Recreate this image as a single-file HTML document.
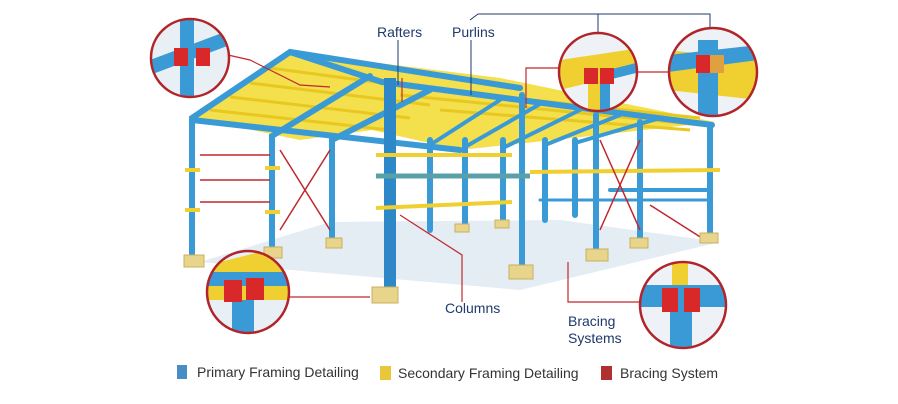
<!DOCTYPE html>
<html><head><meta charset="utf-8"><style>
html,body{margin:0;padding:0;background:#fff;width:898px;height:404px;overflow:hidden}
svg{display:block}
text{font-family:"Liberation Sans",sans-serif;fill:#1f3a6b}
</style></head><body>
<svg width="898" height="404" viewBox="0 0 898 404" xmlns="http://www.w3.org/2000/svg">
<defs>
<clipPath id="c1"><circle cx="190" cy="58" r="38"/></clipPath>
<clipPath id="c2"><circle cx="248" cy="292" r="40"/></clipPath>
<clipPath id="c3"><circle cx="598" cy="72" r="38"/></clipPath>
<clipPath id="c4"><circle cx="713" cy="72" r="43"/></clipPath>
<clipPath id="c5"><circle cx="683" cy="305" r="42"/></clipPath>
</defs>
<rect width="898" height="404" fill="#fff"/>
<polygon points="200,262 520,290 720,242 560,220 330,222" fill="#e4ecf4"/>
<polygon points="195,118 290,52 500,78 715,122 600,135 460,150 372,130 300,140" fill="#f3dc3a" opacity="0.9"/>
<g stroke="#e8c820" stroke-width="3">
<line x1="210" y1="110" x2="390" y2="130"/><line x1="230" y1="97" x2="410" y2="118"/>
<line x1="250" y1="83" x2="430" y2="105"/><line x1="270" y1="68" x2="450" y2="92"/>
<line x1="400" y1="95" x2="700" y2="125"/><line x1="420" y1="88" x2="700" y2="118"/>
<line x1="440" y1="110" x2="690" y2="130"/>
</g>
<g stroke="#3a9ad6" stroke-width="6" fill="none" stroke-linecap="round">
<polyline points="192,258 192,118 290,52 382,82"/>
<polyline points="272,250 272,136 370,76"/>
<polyline points="332,240 332,140 430,90"/>
<line x1="382" y1="82" x2="712" y2="125"/>
<line x1="192" y1="120" x2="460" y2="150"/>
<line x1="290" y1="52" x2="520" y2="88"/>
<line x1="522" y1="95" x2="522" y2="268"/>
<line x1="596" y1="115" x2="596" y2="250"/>
<line x1="640" y1="122" x2="640" y2="240"/>
<line x1="710" y1="125" x2="710" y2="235"/>
<line x1="430" y1="140" x2="430" y2="230"/>
<line x1="465" y1="140" x2="465" y2="225"/>
<line x1="503" y1="140" x2="503" y2="220"/>
<line x1="545" y1="140" x2="545" y2="220"/>
<line x1="575" y1="140" x2="575" y2="215"/>
<line x1="610" y1="190" x2="710" y2="190" stroke-width="4"/>
<line x1="540" y1="200" x2="710" y2="200" stroke-width="3"/>
</g>
<g stroke="#3a9ad6" stroke-width="4" stroke-linecap="round">
<line x1="430" y1="145" x2="500" y2="100"/><line x1="465" y1="147" x2="540" y2="104"/>
<line x1="503" y1="148" x2="580" y2="110"/><line x1="545" y1="145" x2="620" y2="115"/>
<line x1="575" y1="143" x2="660" y2="118"/>
</g>
<line x1="390" y1="78" x2="390" y2="290" stroke="#2e88c8" stroke-width="12"/>
<g stroke="#f0d030" stroke-width="4">
<line x1="376" y1="155" x2="512" y2="155"/>
<line x1="376" y1="208" x2="512" y2="202"/>
<line x1="530" y1="172" x2="720" y2="170"/>
<line x1="185" y1="170" x2="200" y2="170"/><line x1="185" y1="210" x2="200" y2="210"/>
<line x1="265" y1="168" x2="280" y2="168"/><line x1="265" y1="212" x2="280" y2="212"/>
</g>
<line x1="376" y1="176" x2="530" y2="176" stroke="#5aa0a8" stroke-width="5"/>
<g stroke="#c0282d" stroke-width="1.5">
<line x1="200" y1="155" x2="270" y2="155"/><line x1="200" y1="180" x2="270" y2="180"/><line x1="200" y1="202" x2="270" y2="202"/>
<line x1="280" y1="150" x2="330" y2="230"/><line x1="330" y1="150" x2="280" y2="230"/>
<line x1="600" y1="140" x2="640" y2="230"/><line x1="640" y1="140" x2="600" y2="230"/>
<line x1="650" y1="205" x2="705" y2="240"/>
</g>
<g fill="#e8d48a" stroke="#c8b060">
<rect x="184" y="255" width="20" height="12"/><rect x="264" y="247" width="18" height="11"/>
<rect x="326" y="238" width="16" height="10"/><rect x="372" y="287" width="26" height="16"/>
<rect x="509" y="265" width="24" height="14"/><rect x="586" y="249" width="22" height="12"/>
<rect x="630" y="238" width="18" height="10"/><rect x="700" y="233" width="18" height="10"/>
<rect x="455" y="224" width="14" height="8"/><rect x="495" y="220" width="14" height="8"/>
</g>
<g stroke="#c0282d" stroke-width="1.2" fill="none">
<polyline points="228,55 250,60 300,85 330,87"/>
<polyline points="402,102 402,78"/>
<polyline points="526,108 526,68 560,68"/>
<line x1="636" y1="72" x2="670" y2="72"/>
<polyline points="400,215 462,255 462,302"/>
<line x1="288" y1="297" x2="370" y2="297"/>
<polyline points="568,262 568,302 641,302"/>
</g>
<g stroke="#1f3a6b" stroke-width="1" fill="none">
<line x1="398" y1="40" x2="398" y2="85"/>
<line x1="471" y1="40" x2="471" y2="95"/>
<polyline points="470,20 478,14 710,14 710,28"/>
<line x1="598" y1="14" x2="598" y2="32"/>
</g>
<g>
<g clip-path="url(#c1)"><rect x="150" y="18" width="80" height="80" fill="#e8f0f6"/>
<rect x="180" y="18" width="14" height="80" fill="#3a9ad6"/><polygon points="150,60 230,30 230,45 150,75" fill="#3a9ad6"/>
<rect x="174" y="48" width="14" height="18" fill="#d8282a"/><rect x="196" y="48" width="14" height="18" fill="#d8282a"/></g>
<circle cx="190" cy="58" r="39" fill="none" stroke="#b0242a" stroke-width="2.5"/>
<g clip-path="url(#c2)"><rect x="208" y="252" width="80" height="80" fill="#e8f0f6"/>
<polygon points="208,265 260,252 288,270 288,300 208,300" fill="#f0d030"/>
<rect x="208" y="272" width="80" height="14" fill="#3a9ad6"/><rect x="232" y="300" width="22" height="40" fill="#3a9ad6"/>
<rect x="224" y="280" width="18" height="22" fill="#d8282a"/><rect x="246" y="278" width="18" height="22" fill="#d8282a"/></g>
<circle cx="248" cy="292" r="41" fill="none" stroke="#b0242a" stroke-width="2.5"/>
<g clip-path="url(#c3)"><rect x="560" y="34" width="80" height="80" fill="#eef2f6"/>
<polygon points="560,60 640,48 640,70 560,90" fill="#f0d030"/>
<rect x="588" y="75" width="12" height="40" fill="#f0d030"/><rect x="600" y="75" width="10" height="40" fill="#3a9ad6"/>
<polygon points="600,72 640,62 640,72 600,82" fill="#3a9ad6"/>
<rect x="584" y="68" width="14" height="16" fill="#d8282a"/><rect x="600" y="68" width="14" height="16" fill="#d8282a"/></g>
<circle cx="598" cy="72" r="39" fill="none" stroke="#b0242a" stroke-width="2.5"/>
<g clip-path="url(#c4)"><rect x="668" y="28" width="90" height="90" fill="#eef2f6"/>
<polygon points="668,50 758,60 758,100 668,90" fill="#f0d030"/>
<rect x="698" y="40" width="20" height="80" fill="#3a9ad6"/><polygon points="668,55 758,45 758,60 668,72" fill="#3a9ad6"/>
<rect x="696" y="55" width="14" height="18" fill="#d8282a"/><rect x="710" y="55" width="14" height="18" fill="#e0a040"/></g>
<circle cx="713" cy="72" r="44" fill="none" stroke="#b0242a" stroke-width="2.5"/>
<g clip-path="url(#c5)"><rect x="641" y="263" width="84" height="84" fill="#eef2f6"/>
<rect x="672" y="263" width="16" height="30" fill="#f0d030"/>
<rect x="641" y="285" width="84" height="22" fill="#3a9ad6"/><rect x="670" y="300" width="22" height="50" fill="#3a9ad6"/>
<rect x="662" y="288" width="16" height="24" fill="#d8282a"/><rect x="684" y="288" width="16" height="24" fill="#d8282a"/></g>
<circle cx="683" cy="305" r="43" fill="none" stroke="#b0242a" stroke-width="2.5"/>
</g>
<text x="377" y="37" font-size="14">Rafters</text>
<text x="452" y="37" font-size="14">Purlins</text>
<text x="445" y="313" font-size="14">Columns</text>
<text x="568" y="326" font-size="14">Bracing</text>
<text x="568" y="343" font-size="14">Systems</text>
<rect x="177" y="365" width="10" height="14" fill="#4a8cc4"/>
<text x="197" y="377" font-size="14" style="fill:#333">Primary Framing Detailing</text>
<rect x="380" y="366" width="11" height="14" fill="#e8c83a"/>
<text x="398" y="378" font-size="14" style="fill:#333">Secondary Framing Detailing</text>
<rect x="601" y="366" width="11" height="14" fill="#b03030"/>
<text x="620" y="378" font-size="14" style="fill:#333">Bracing System</text>
</svg>
</body></html>
